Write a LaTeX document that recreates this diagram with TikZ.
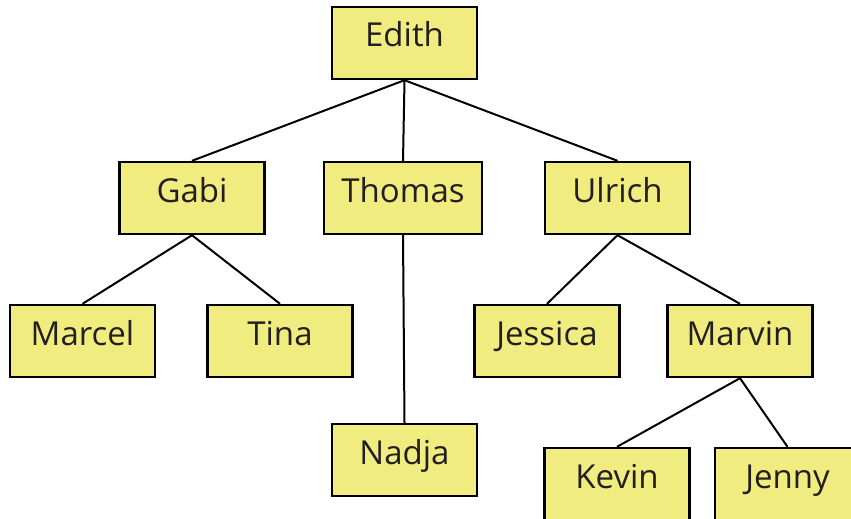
\documentclass[tikz,border=0pt]{standalone}
\usepackage{fontspec}
\setmainfont{Open Sans}
\definecolor{boxfill}{HTML}{F0EC80}
\definecolor{ink}{HTML}{231F20}
\begin{document}
\begin{tikzpicture}[x=1pt,y=-1pt,
  person/.style={draw=black,line width=2.4pt,fill=boxfill,text=ink,
    minimum width=145pt,minimum height=72pt,inner sep=0pt,
    text height=24pt,text depth=16pt,font=\fontsize{33}{36}\selectfont},
  link/.style={draw=black,line width=2pt}]
\useasboundingbox (0,0) rectangle (851,519);
\node[person] (edith) at (404.5,43) {Edith};
\node[person] (gabi) at (192,198) {Gabi};
\node[person,minimum width=158pt] (thomas) at (403,198) {Thomas};
\node[person] (ulrich) at (617.5,198) {Ulrich};
\node[person] (marcel) at (82.5,341) {Marcel};
\node[person] (tina) at (280,341) {Tina};
\node[person] (jessica) at (547,341) {Jessica};
\node[person] (marvin) at (740,341) {Marvin};
\node[person] (nadja) at (404.5,460) {Nadja};
\node[person] (kevin) at (617,484) {Kevin};
\node[person] (jenny) at (787.5,484) {Jenny};
\draw[link] (edith.south) -- (gabi.north);
\draw[link] (edith.south) -- (thomas.north);
\draw[link] (edith.south) -- (ulrich.north);
\draw[link] (gabi.south) -- (marcel.north);
\draw[link] (gabi.south) -- (tina.north);
\draw[link] (thomas.south) -- (nadja.north);
\draw[link] (ulrich.south) -- (jessica.north);
\draw[link] (ulrich.south) -- (marvin.north);
\draw[link] (marvin.south) -- (kevin.north);
\draw[link] (marvin.south) -- (jenny.north);
\end{tikzpicture}
\end{document}
